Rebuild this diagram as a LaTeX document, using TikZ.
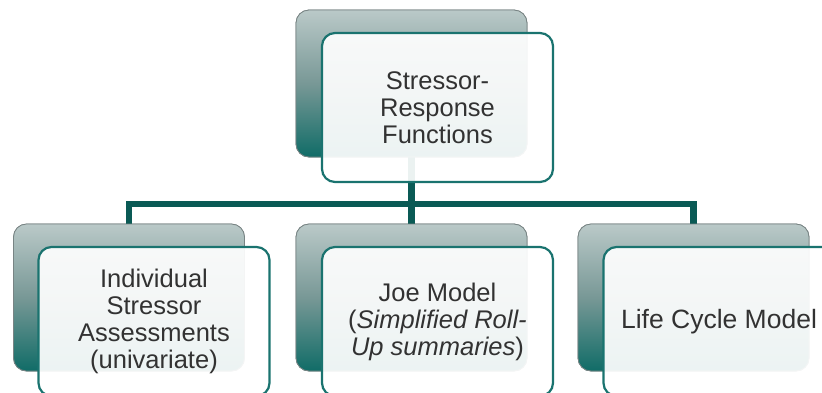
\documentclass[tikz,border=0pt]{standalone}
\usepackage{fontspec}
\setmainfont{Liberation Sans}
\definecolor{conn}{RGB}{10,90,85}
\definecolor{frontedge}{RGB}{26,115,111}
\definecolor{backtop}{RGB}{186,201,200}
\definecolor{backmid}{RGB}{120,152,150}
\definecolor{backbot}{RGB}{16,108,103}
\definecolor{backedge}{RGB}{120,132,132}
\definecolor{txt}{RGB}{50,50,50}
\begin{document}
\begin{tikzpicture}[x=1pt,y=-1pt,
  backbox/.style={draw=backedge, line width=0.8pt, rounded corners=13pt,
    minimum width=231pt, minimum height=147pt, inner sep=0pt,
    top color=backtop, bottom color=backbot, middle color=backmid},
  frontbox/.style={draw=frontedge, line width=2.2pt, rounded corners=13pt,
    minimum width=231pt, minimum height=149pt, inner sep=0pt,
    fill=white, fill opacity=0.92, draw opacity=1, text opacity=1,
    text=txt, align=center, font=\fontsize{25.5}{27}\selectfont},
  connector/.style={draw=conn, line width=6.5pt, line join=miter}]
\useasboundingbox (0,0) rectangle (822,392);
\clip (0,0) rectangle (822,392);
\coordinate (hub) at (411.5,204);
\node[backbox] (tb) at (411.5,83.5) {};
\node[backbox] (lb) at (129,297.5) {};
\node[backbox] (mb) at (411.5,297.5) {};
\node[backbox] (rb) at (693.5,297.5) {};
\draw[connector] (tb.south) -- (hub);
\draw[connector] (hub) -| (lb.north);
\draw[connector] (hub) -| (rb.north);
\draw[connector] (hub) -- (mb.north);
\node[backbox] at (tb) {};
\node[backbox] at (lb) {};
\node[backbox] at (mb) {};
\node[backbox] at (rb) {};
\node[frontbox] (tf) at (437.5,107.5) {Stressor-\\Response\\Functions};
\node[frontbox] (lf) at (154,321.5) {Individual\\Stressor\\Assessments\\(univariate)};
\node[frontbox] (mf) at (437.5,321.5) {Joe Model\\(\textit{Simplified Roll-}\\\textit{Up summaries})};
\node[frontbox, font=\fontsize{26.5}{27}\selectfont] (rf) at (719,321.5) {Life Cycle Model};
\end{tikzpicture}
\end{document}
